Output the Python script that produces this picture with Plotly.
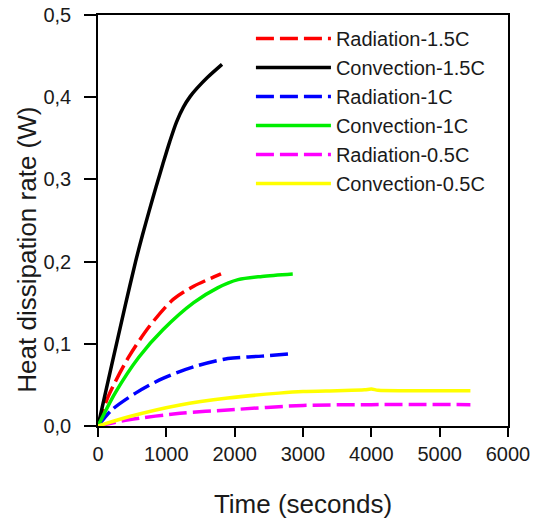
import plotly.graph_objects as go

# Heat dissipation rate (W) versus time (s) for three C-rates
t_conv_15 = [0, 200, 400, 550, 650, 750, 850, 950, 1050, 1150, 1250, 1350, 1450, 1600, 1815]
q_conv_15 = [0, 0.074, 0.147, 0.200, 0.232, 0.262, 0.291, 0.319, 0.346, 0.370, 0.388, 0.401, 0.411, 0.424, 0.440]

t_rad_15 = [0, 150, 450, 750, 1100, 1400, 1800]
q_rad_15 = [0, 0.036, 0.084, 0.121, 0.154, 0.170, 0.185]

t_conv_10 = [0, 250, 600, 950, 1400, 1750, 2050, 2400, 2850]
q_conv_10 = [0, 0.040, 0.084, 0.117, 0.150, 0.168, 0.178, 0.182, 0.185]

t_rad_10 = [0, 200, 550, 950, 1400, 1900, 2400, 2850]
q_rad_10 = [0, 0.0195, 0.040, 0.058, 0.072, 0.082, 0.085, 0.088]

t_conv_05 = [0, 450, 1200, 1900, 2650, 3000, 3500, 3900, 4000, 4100, 4500, 5000, 5450]
q_conv_05 = [0, 0.0113, 0.0256, 0.034, 0.040, 0.042, 0.043, 0.044, 0.045, 0.0435, 0.043, 0.043, 0.043]

t_rad_05 = [0, 450, 1200, 1900, 3000, 4000, 5450]
q_rad_05 = [0, 0.0075, 0.0155, 0.0195, 0.025, 0.026, 0.026]

x_ticks = [0, 1000, 2000, 3000, 4000, 5000, 6000]
y_ticks = [0.0, 0.1, 0.2, 0.3, 0.4, 0.5]
y_tick_labels = ["0,0", "0,1", "0,2", "0,3", "0,4", "0,5"]

series = [
    ("Radiation-1.5C", t_rad_15, q_rad_15, "#ff0000", "dash"),
    ("Convection-1.5C", t_conv_15, q_conv_15, "#000000", "solid"),
    ("Radiation-1C", t_rad_10, q_rad_10, "#0000ff", "dash"),
    ("Convection-1C", t_conv_10, q_conv_10, "#00ee00", "solid"),
    ("Radiation-0.5C", t_rad_05, q_rad_05, "#ff00ff", "dash"),
    ("Convection-0.5C", t_conv_05, q_conv_05, "#ffff00", "solid"),
]

FONT = "Liberation Sans, Arial, sans-serif"
TEXT = "#1a1a1a"

fig = go.Figure()
for name, t, q, color, style in series:
    fig.add_trace(go.Scatter(
        x=t, y=q, name=name, mode="lines",
        line=dict(color=color, width=3.5, shape="spline", smoothing=0.8,
                  dash="18px,6px" if style == "dash" else "solid"),
    ))

axis_common = dict(
    showgrid=False, zeroline=False, showline=True, linecolor="#000000",
    linewidth=1.5, mirror=True, ticks="outside", tickcolor="#000000",
    tickwidth=1.5, tickfont=dict(family=FONT, size=20, color=TEXT),
    automargin=False,
)

fig.update_layout(
    width=538, height=520,
    margin=dict(l=98, r=30, t=15, b=94),
    paper_bgcolor="white", plot_bgcolor="white",
    font=dict(family=FONT, color=TEXT),
    xaxis=dict(range=[0, 6000], tickvals=x_ticks, ticklen=9,
               title=dict(text="Time (seconds)", font=dict(size=26), standoff=31),
               **axis_common),
    yaxis=dict(range=[0, 0.5], tickvals=y_ticks, ticktext=y_tick_labels, ticklen=12,
               ticklabelstandoff=9, **axis_common),
    legend=dict(x=0.373, y=0.99, xanchor="left", yanchor="top",
                bgcolor="rgba(0,0,0,0)", font=dict(family=FONT, size=20, color=TEXT),
                itemwidth=75, tracegroupgap=0),
    showlegend=True,
    annotations=[dict(
        text="Heat dissipation rate (W)", textangle=-90,
        xref="paper", yref="paper", x=0, y=0.429, xanchor="center", yanchor="middle",
        xshift=-71, showarrow=False, font=dict(family=FONT, size=26, color=TEXT),
    )],
)

fig.write_html("out.html")
